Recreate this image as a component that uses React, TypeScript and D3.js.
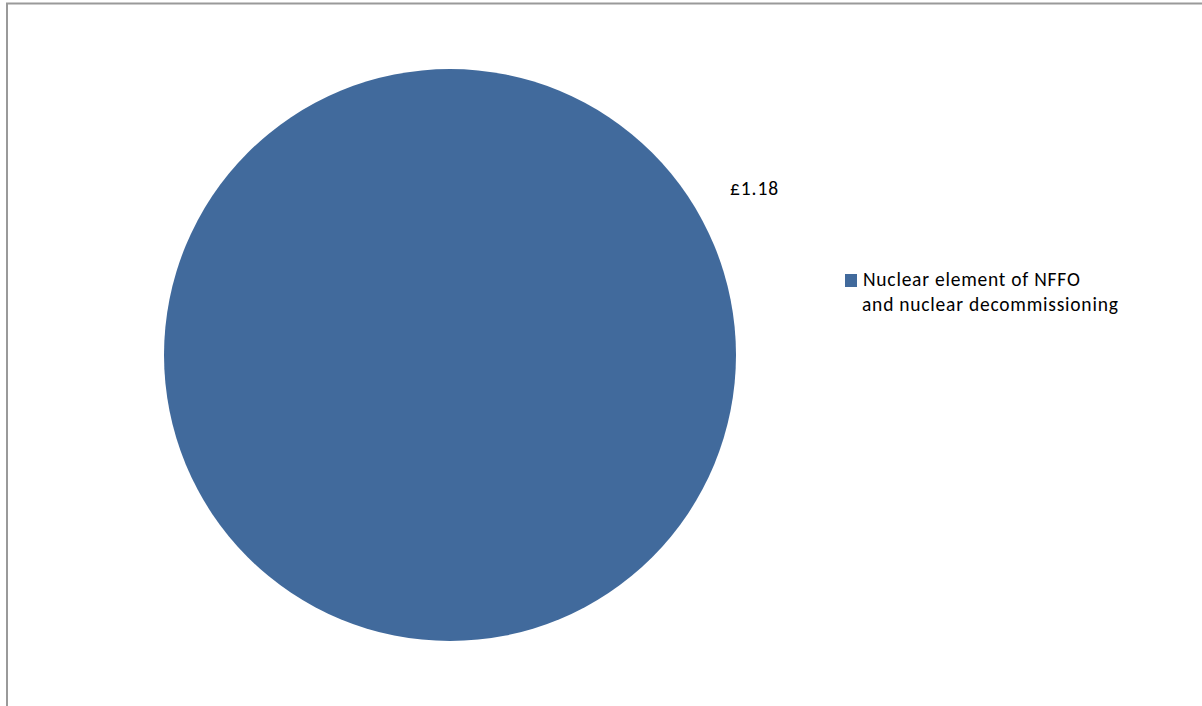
import React from "react";
import * as d3 from "d3";

const categories = ["Nuclear element of NFFO and nuclear decommissioning"];
const values = [1.18];
const labels = ["£1.18"];
const legendLines = ["Nuclear element of NFFO", "and nuclear decommissioning"];
const colors = ["#416A9C"];

export default function App() {
  const W = 1202, H = 706;
  const cx = 450, cy = 355, r = 286;
  const pie = d3.pie<number>().sort(null).startAngle(0).endAngle(2 * Math.PI);
  const arcs = pie(values);
  const arcGen = d3.arc<d3.PieArcDatum<number>>().innerRadius(0).outerRadius(r);
  const font = "Carlito, Calibri, Lato, sans-serif";
  return (
    <svg width={W} height={H} style={{ position: "absolute", left: 0, top: 0 }}>
      <rect x={0} y={0} width={W} height={H} fill="#fff" />
      <rect x={7} y={3.5} width={W + 10} height={H + 10} fill="none" stroke="#9a9a9a" strokeWidth={2} />
      <g transform={`translate(${cx},${cy})`}>
        {arcs.map((a, i) => (
          <path key={categories[i]} d={arcGen(a) || ""} fill={colors[i]} />
        ))}
      </g>
      {labels.map((l) => (
        <text key={l} x={730} y={195} fontFamily={font} fontSize={19.5} letterSpacing={0.9} fill="#000">{l}</text>
      ))}
      <rect x={845} y={274} width={12} height={13} fill={colors[0]} />
      {legendLines.map((t, i) => (
        <text key={t} x={i === 0 ? 863 : 862} y={286 + i * 25} fontFamily={font} fontSize={19.5} letterSpacing={0.77} fill="#000">{t}</text>
      ))}
    </svg>
  );
}
